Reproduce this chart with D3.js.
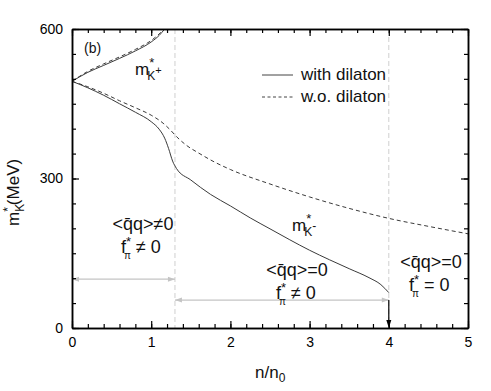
<!DOCTYPE html>
<html>
<head>
<meta charset="utf-8">
<script src="https://cdn.jsdelivr.net/npm/d3@7"></script>
<style>
  body { margin: 0; background: #fff; }
  svg { font-family: "Liberation Sans", Arial, sans-serif; }
</style>
</head>
<body>
<div id="chart"></div>
<script>
const W = 491, H = 391
const margin = {top: 29, right: 23, bottom: 63, left: 72}
const chartWidth = W - margin.left - margin.right
const chartHeight = H - margin.top - margin.bottom

// values: [n/n0, m (MeV)]
const kPlusWith = [[0,495],[0.2,513],[0.4,527],[0.6,541],[0.8,556],[1.0,574],[1.1,587],[1.17,600]]
const kPlusWo = [[0,495],[0.2,515],[0.4,530],[0.6,544],[0.8,559],[1.0,577],[1.1,590],[1.16,600]]
const kMinusWith = [[0,495],[0.2,482],[0.4,467],[0.6,450],[0.8,433],[1.0,414],[1.1,399],[1.17,381],[1.22,360],
  [1.27,335],[1.32,320],[1.5,297],[1.75,268],[2.0,245],[2.25,221],[2.5,199],[2.75,177],[3.0,156],[3.25,137],
  [3.5,119],[3.75,101],[3.9,87],[4.0,71]]
const kMinusWo = [[0,495],[0.2,484],[0.4,471],[0.6,456],[0.8,442],[1.0,427],[1.15,411],[1.25,396],[1.32,384],
  [1.45,366],[1.6,351],[1.8,333],[2.0,318],[2.5,289],[3.0,263],[3.5,240],[4.0,220],[4.5,204],[5.0,189]]
const phaseEdges = [1.3, 4]
const nTicks = [0, 1, 2, 3, 4, 5]
const mTicks = [0, 300, 600]

const x = d3.scaleLinear().domain([0, 5]).range([0, chartWidth])
const y = d3.scaleLinear().domain([0, 600]).range([chartHeight, 0])

const svg = d3.select('#chart').append('svg').attr('width', W).attr('height', H)
const g = svg.append('g').attr('transform', `translate(${margin.left},${margin.top})`)

svg.append('defs').append('clipPath').attr('id', 'plot')
  .append('rect').attr('width', chartWidth).attr('height', chartHeight)

// phase boundaries
g.selectAll('.edge').data(phaseEdges).enter().append('line')
  .attr('class', 'edge')
  .attr('x1', d => x(d)).attr('x2', d => x(d))
  .attr('y1', 0).attr('y2', chartHeight)
  .attr('stroke', '#cfcfcf').attr('stroke-dasharray', '5,3')

// curves
const line = d3.line().x(d => x(d[0])).y(d => y(d[1])).curve(d3.curveMonotoneX)
const curves = [
  {data: kPlusWith, dash: null},
  {data: kPlusWo, dash: '4,3'},
  {data: kMinusWith, dash: null},
  {data: kMinusWo, dash: '4,3'}
]
g.append('g').attr('clip-path', 'url(#plot)')
  .selectAll('path').data(curves).enter().append('path')
  .attr('d', d => line(d.data))
  .attr('fill', 'none')
  .attr('stroke', '#3a3a3a')
  .attr('stroke-width', 1)
  .attr('stroke-dasharray', d => d.dash)

// arrows
const grey = '#c4c4c4'
function hArrow(x0, x1, yy) {
  g.append('line').attr('x1', x0).attr('x2', x1).attr('y1', yy).attr('y2', yy)
    .attr('stroke', grey).attr('stroke-width', 1.2)
  g.append('path').attr('d', `M${x0},${yy}l7,-2.5l0,5z`).attr('fill', grey)
  g.append('path').attr('d', `M${x1},${yy}l-7,-2.5l0,5z`).attr('fill', grey)
}
hArrow(x(0), x(phaseEdges[0]), y(98))
hArrow(x(phaseEdges[0]), x(phaseEdges[1]), y(56))
g.append('line').attr('x1', x(4)).attr('x2', x(4)).attr('y1', y(56)).attr('y2', chartHeight - 6)
  .attr('stroke', '#000').attr('stroke-width', 1.2)
g.append('path').attr('d', `M${x(4)},${chartHeight}l-2.5,-8l5,0z`).attr('fill', '#000')

// axes
function ticks(axis, vals, len, labels) {
  return axis.tickValues(vals).tickSizeInner(-len).tickSizeOuter(0)
    .tickPadding(labels ? 9 : 0).tickFormat(labels ? d3.format('d') : '')
}
const minorN = d3.range(0, 5.001, 0.2).map(d => +d.toFixed(1))
const minorM = d3.range(0, 601, 50)

const axes = [
  {a: ticks(d3.axisBottom(x), minorN, 4, false), t: `translate(0,${chartHeight})`},
  {a: ticks(d3.axisBottom(x), nTicks, 7, true), t: `translate(0,${chartHeight})`},
  {a: ticks(d3.axisTop(x), minorN, 4, false), t: 'translate(0,0)'},
  {a: ticks(d3.axisTop(x), nTicks, 7, false), t: 'translate(0,0)'},
  {a: ticks(d3.axisLeft(y), minorM, 4, false), t: 'translate(0,0)'},
  {a: ticks(d3.axisLeft(y), mTicks, 7, true), t: 'translate(0,0)'},
  {a: ticks(d3.axisRight(y), minorM, 4, false), t: `translate(${chartWidth},0)`},
  {a: ticks(d3.axisRight(y), mTicks, 7, false), t: `translate(${chartWidth},0)`}
]
axes.forEach(ax => {
  const sel = g.append('g').attr('transform', ax.t).call(ax.a)
  sel.select('.domain').attr('stroke', '#000').attr('stroke-width', 1.5)
  sel.selectAll('.tick line').attr('stroke', '#000').attr('stroke-width', 1.2)
  sel.selectAll('.tick text').attr('fill', '#000').style('font-size', '14px')
    .style('font-family', '"Liberation Sans", Arial, sans-serif')
})

// text helper: parts = [[text, dy, size, dx]]
function label(px, py, parts, size, anchor) {
  const t = svg.append('text').attr('x', px).attr('y', py)
    .attr('text-anchor', anchor || 'start').style('font-size', size + 'px').attr('fill', '#111')
  parts.forEach(p => {
    const ts = t.append('tspan').text(p[0])
    if (p[1]) ts.attr('dy', p[1])
    if (p[2]) ts.style('font-size', p[2] + 'px')
    if (p[3] != null) ts.attr('dx', p[3])
  })
  return t
}

label(84, 53, [['(b)']], 14)
label(135, 75, [['m'], ['*', -8, 13, 0], ['K', 13, 12, -7], ['+', -6, 11, 0]], 17)
label(292, 231, [['m'], ['*', -8, 13, 0], ['K', 13, 12, -7], ['-', -6, 12, 0]], 17)

const qq = '<q\u0304q>'
const fpi = rest => [['f'], ['*', -7, 13, 0], ['\u03c0', 13, 10, -7], [rest, -6, 18, 0]]
label(143, 230, [[qq + '\u22600']], 18, 'middle')
label(121, 253, fpi(' \u2260 0'), 18)
label(297, 276, [[qq + '=0']], 18, 'middle')
label(276, 299, fpi(' \u2260 0'), 18)
label(431, 268, [[qq + '=0']], 18, 'middle')
label(409, 291, fpi(' = 0'), 18)

// legend
svg.append('line').attr('x1', 262).attr('x2', 293).attr('y1', 75).attr('y2', 75)
  .attr('stroke', '#444')
svg.append('line').attr('x1', 262).attr('x2', 293).attr('y1', 97).attr('y2', 97)
  .attr('stroke', '#444').attr('stroke-dasharray', '3,2.5')
label(301, 80, [['with dilaton']], 17)
label(301, 102, [['w.o. dilaton']], 17)

// axis titles
label(255, 378, [['n/n'], ['0', 4, 12, 0]], 17)
label(0, 0, [['m'], ['K', 5, 12, 0], ['*', -12, 12, -8], ['(MeV)', 7, 17, 2]], 17)
  .attr('transform', 'translate(19,226) rotate(-90)')
</script>
</body>
</html>
